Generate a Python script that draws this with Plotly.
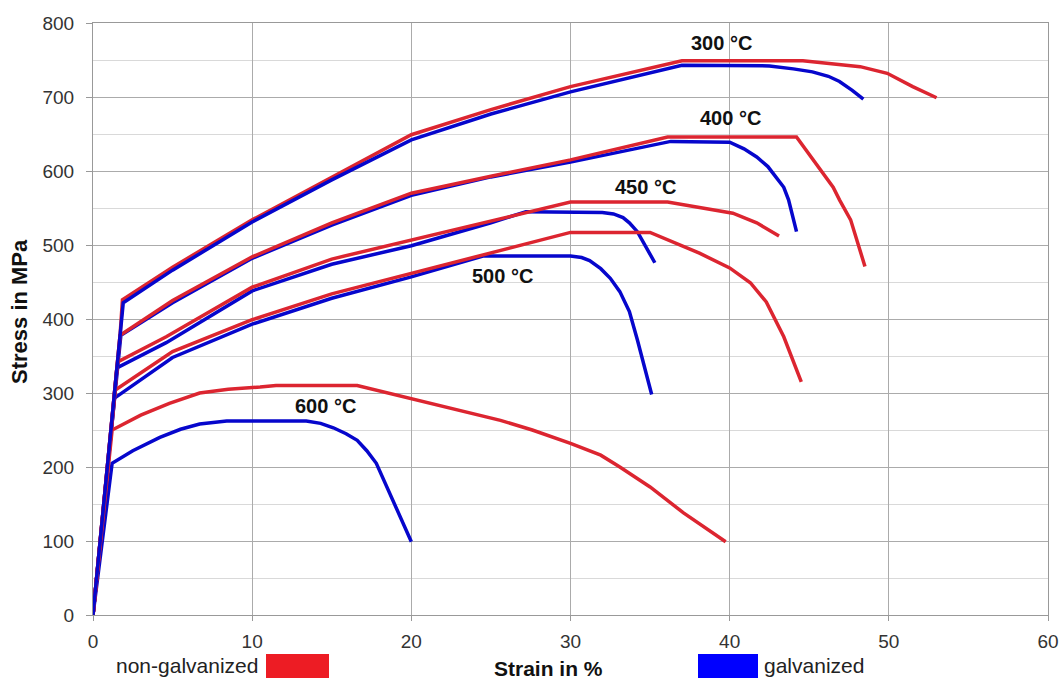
import plotly.graph_objects as go

# ---- data (strain in %, stress in MPa) ----
# non-galvanized (red)
red_300_x = [0, 1.7, 1.85, 5, 10, 15, 20, 25, 30, 37, 44.6, 48.2, 49.9, 51.5, 53.0]
red_300_y = [0, 378, 426, 470, 534, 592, 649, 683, 714, 749, 749, 741, 732, 714, 699]
red_400_x = [0, 1.7, 5, 10, 15, 20, 25, 30, 36.1, 44.2, 46.5, 46.9, 47.6, 48.5]
red_400_y = [0, 378, 425, 484, 530, 570, 593, 615, 646, 646, 578, 561, 534, 471]
red_450_x = [0, 1.55, 4.6, 10, 15, 20, 25, 30, 36.1, 40.2, 41.7, 43.1]
red_450_y = [0, 342, 376, 443, 481, 507, 532, 558, 558, 543, 530, 512]
red_500_x = [0, 1.4, 5, 10, 15, 20, 25, 30, 35, 38.1, 40, 41.3, 42.3, 43.4, 44.5]
red_500_y = [0, 304, 356, 399, 434, 462, 490, 517, 517, 489, 469, 449, 423, 376, 315]
red_600_x = [0, 1.2, 3, 4.8, 6.7, 8.5, 10.5, 11.5, 16.6, 20, 25.6, 27.6, 30, 31.9, 33.1, 35, 37.1, 39.75]
red_600_y = [0, 250, 270, 286, 300, 305, 308, 310, 310, 292, 263, 250, 232, 216, 200, 173, 138, 99]

# galvanized (blue)
blue_300_x = [0, 1.75, 1.9, 5, 10, 15, 20, 25, 30, 37, 40, 42.5, 44, 45.2, 46.2, 46.9, 47.7, 48.4]
blue_300_y = [0, 378, 422, 466, 531, 588, 642, 677, 707, 743, 743, 742, 738, 734, 728, 721, 709, 697]
blue_400_x = [0, 1.75, 5, 10, 15, 20, 25, 30, 36.3, 40, 40.9, 41.7, 42.4, 42.9, 43.4, 43.7, 44.2]
blue_400_y = [0, 378, 422, 482, 527, 567, 592, 612, 640, 639, 630, 619, 606, 592, 578, 561, 518]
blue_450_x = [0, 1.5, 4.6, 10, 15, 20, 25, 27.2, 32.0, 32.7, 33.3, 33.7, 34.2, 34.6, 35.3]
blue_450_y = [0, 334, 368, 438, 474, 499, 530, 545, 544, 542, 537, 530, 518, 502, 476]
blue_500_x = [0, 1.35, 5, 10, 15, 20, 24.5, 30, 30.7, 31.2, 31.9, 32.5, 33.1, 33.7, 34.2, 35.1]
blue_500_y = [0, 293, 348, 393, 428, 457, 485, 485, 483, 479, 468, 455, 437, 410, 372, 298]
blue_600_x = [0, 1.2, 2.5, 4.2, 5.5, 6.7, 8.4, 13.4, 14.3, 15.1, 15.9, 16.6, 17.2, 17.8, 20.0]
blue_600_y = [0, 205, 222, 240, 251, 258, 262, 262, 259, 253, 245, 236, 222, 205, 99]

temp_labels = ["300 °C", "400 °C", "450 °C", "500 °C", "600 °C"]
label_x = [39.5, 40.05, 34.7, 25.7, 14.6]
label_y = [773, 672, 579, 458, 282]

x_ticks = [0, 10, 20, 30, 40, 50, 60]
y_ticks = [0, 100, 200, 300, 400, 500, 600, 700, 800]

RED = "#DC2530"
BLUE = "#0606CC"
FONT = "Arial, Liberation Sans, sans-serif"

fig = go.Figure()

blue_series = [(blue_300_x, blue_300_y), (blue_400_x, blue_400_y), (blue_450_x, blue_450_y),
               (blue_500_x, blue_500_y), (blue_600_x, blue_600_y)]
red_series = [(red_300_x, red_300_y), (red_400_x, red_400_y), (red_450_x, red_450_y),
              (red_500_x, red_500_y), (red_600_x, red_600_y)]

def add_blue(i):
    xs, ys = blue_series[i]
    fig.add_trace(go.Scatter(x=xs, y=ys, mode="lines", name="galvanized " + temp_labels[i],
                             line=dict(color=BLUE, width=3.5), showlegend=False))

for i in range(1, 5):
    add_blue(i)
for (xs, ys), t in zip(red_series, temp_labels):
    fig.add_trace(go.Scatter(x=xs, y=ys, mode="lines", name="non-galvanized " + t,
                             line=dict(color=RED, width=3.5), showlegend=False))
add_blue(0)

# plot-area geometry used to place paper-referenced items (left 93 px, right 1048 px)
PL, PW, PB, PH = 93, 955, 615, 592

for t, lx, ly in zip(temp_labels, label_x, label_y):
    fig.add_annotation(x=lx, y=ly, text="<b>" + t + "</b>", showarrow=False,
                       font=dict(family=FONT, size=20, color="#111"),
                       xanchor="center", yanchor="middle")

# axis titles
fig.add_annotation(xref="paper", yref="paper", x=(548 - PL) / PW, y=(PB - 668) / PH,
                   text="<b>Strain in %</b>", showarrow=False, xanchor="center", yanchor="middle",
                   font=dict(family=FONT, size=21, color="#111"))
fig.add_annotation(xref="paper", yref="paper", x=(19 - PL) / PW, y=(PB - 312) / PH,
                   text="<b>Stress in MPa</b>", showarrow=False, textangle=-90,
                   xanchor="center", yanchor="middle",
                   font=dict(family=FONT, size=22, color="#111"))

# legend (manual, as in the reference)
fig.add_annotation(xref="paper", yref="paper", x=(260 - PL) / PW, y=(PB - 665) / PH,
                   text="non-galvanized", showarrow=False, xanchor="right", yanchor="middle",
                   font=dict(family=FONT, size=21, color="#222"))
fig.add_annotation(xref="paper", yref="paper", x=(762 - PL) / PW, y=(PB - 665) / PH,
                   text="galvanized", showarrow=False, xanchor="left", yanchor="middle",
                   font=dict(family=FONT, size=21, color="#222"))
fig.add_shape(type="rect", xref="paper", yref="paper",
              x0=(266 - PL) / PW, x1=(329 - PL) / PW,
              y0=(PB - 678) / PH, y1=(PB - 654) / PH,
              fillcolor="#ED1C24", line=dict(color="#ED1C24", width=0))
fig.add_shape(type="rect", xref="paper", yref="paper",
              x0=(698 - PL) / PW, x1=(758 - PL) / PW,
              y0=(PB - 678) / PH, y1=(PB - 654) / PH,
              fillcolor="#0000FF", line=dict(color="#0000FF", width=0))

fig.update_layout(
    width=1064, height=680, autosize=False,
    margin=dict(l=93, r=16, t=23, b=65, autoexpand=False),
    paper_bgcolor="white", plot_bgcolor="white",
    font=dict(family=FONT, color="#333"),
    xaxis=dict(range=[0, 60], tickvals=x_ticks, ticks="outside", ticklen=5, tickcolor="#999",
               showgrid=True, gridcolor="#ABABAB", gridwidth=1, automargin=False,
               showline=True, linecolor="#999", linewidth=1, mirror=True,
               zeroline=False, tickfont=dict(size=19, color="#333"), ticklabelstandoff=4),
    yaxis=dict(range=[0, 800], tickvals=y_ticks, ticks="outside", ticklen=6, tickcolor="#999",
               showgrid=True, gridcolor="#ABABAB", gridwidth=1, automargin=False,
               minor=dict(dtick=50, showgrid=True, gridcolor="#D9D9D9", gridwidth=1),
               showline=True, linecolor="#999", linewidth=1, mirror=True,
               zeroline=False, tickfont=dict(size=19, color="#333"), ticklabelstandoff=8),
)

fig.write_html("out.html",
               config={"displayModeBar": False, "responsive": False},
               post_script="document.body.style.margin='0';document.body.style.overflow='hidden';")
